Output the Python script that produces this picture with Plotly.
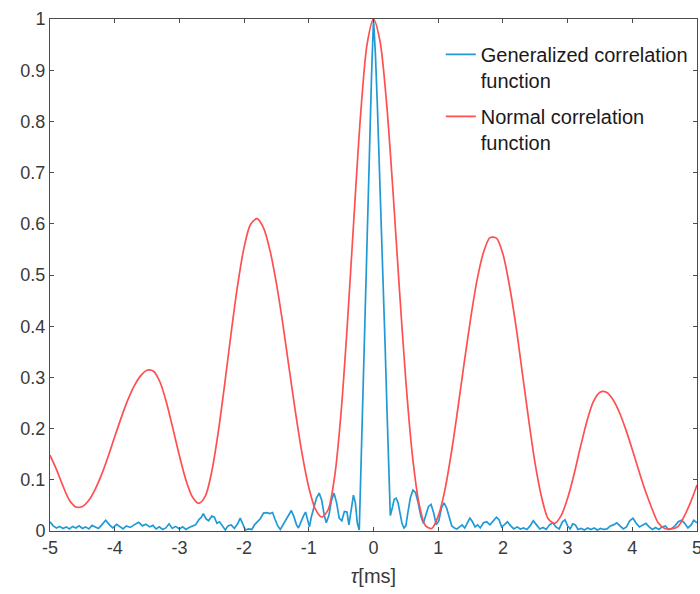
import plotly.graph_objects as go

# ---- Normal correlation function (red), sampled every 0.1 ms ----
red_tau = [round(-5 + 0.1 * i, 1) for i in range(101)]
red_val = [
    0.148, 0.120, 0.088, 0.060, 0.047, 0.048, 0.060, 0.082, 0.111, 0.146,   # -5.0 .. -4.1
    0.184, 0.221, 0.255, 0.283, 0.303, 0.314, 0.312, 0.291, 0.251, 0.200,   # -4.0 .. -3.1
    0.147, 0.100, 0.067, 0.054, 0.068, 0.116, 0.193, 0.287, 0.387, 0.480,   # -3.0 .. -2.1
    0.554, 0.599, 0.610, 0.592, 0.548, 0.483, 0.403, 0.314, 0.227, 0.148,   # -2.0 .. -1.1
    0.085, 0.043, 0.027, 0.042, 0.107, 0.233, 0.412, 0.617, 0.812, 0.950,   # -1.0 .. -0.1
    1.000, 0.957, 0.839, 0.666, 0.473, 0.293, 0.149, 0.056, 0.011, 0.005,   #  0.0 .. 0.9
    0.029, 0.078, 0.150, 0.236, 0.327, 0.414, 0.490, 0.544, 0.573, 0.572,   #  1.0 .. 1.9
    0.541, 0.480, 0.402, 0.309, 0.216, 0.130, 0.065, 0.024, 0.015, 0.030,   #  2.0 .. 2.9
    0.064, 0.111, 0.165, 0.215, 0.253, 0.271, 0.271, 0.257, 0.232, 0.198,   #  3.0 .. 3.9
    0.159, 0.118, 0.079, 0.045, 0.016, 0.005, 0.004, 0.008, 0.028, 0.056,   #  4.0 .. 4.9
    0.090,                                                                  #  5.0
]

# ---- Generalized correlation function (blue) ----
blue_tau = [
    -5.00, -4.95, -4.90, -4.85, -4.80, -4.75, -4.70, -4.65, -4.60, -4.55,
    -4.50, -4.45, -4.40, -4.35, -4.30, -4.25, -4.20, -4.14, -4.08, -4.03,
    -3.97, -3.92, -3.87, -3.82, -3.76, -3.70, -3.63, -3.57, -3.52, -3.46,
    -3.41, -3.36, -3.31, -3.26, -3.21, -3.16, -3.11, -3.06, -3.00, -2.95,
    -2.90, -2.85, -2.80, -2.75, -2.70, -2.66, -2.63, -2.59, -2.55, -2.50,
    -2.46, -2.42, -2.38, -2.33, -2.29, -2.25, -2.20, -2.15, -2.10, -2.06,
    -2.02, -1.98, -1.93, -1.88, -1.84, -1.80, -1.75, -1.70, -1.65, -1.60,
    -1.56, -1.52, -1.48, -1.44, -1.40, -1.36, -1.31, -1.27, -1.23, -1.19,
    -1.16, -1.12, -1.08, -1.05, -1.02, -0.99, -0.96, -0.92, -0.88, -0.84,
    -0.80, -0.76, -0.73, -0.69, -0.65, -0.61, -0.57, -0.53, -0.49, -0.45,
    -0.41, -0.38, -0.35, -0.31, -0.28, -0.25, -0.22,
    -0.21, -0.18, -0.15, -0.12, -0.09, -0.06, -0.03, 0.00,
    0.03, 0.06, 0.09, 0.12, 0.15, 0.18, 0.21, 0.24,
    0.26, 0.29, 0.32, 0.35, 0.38, 0.41, 0.44, 0.47, 0.50, 0.53,
    0.57, 0.61, 0.65, 0.69, 0.73, 0.77, 0.81, 0.85, 0.89, 0.93,
    0.97, 1.01, 1.05, 1.09, 1.13, 1.17, 1.21, 1.25, 1.29, 1.33,
    1.37, 1.41, 1.45, 1.49, 1.53, 1.57, 1.61, 1.65, 1.70, 1.75,
    1.80, 1.85, 1.90, 1.94, 1.98, 2.02, 2.07, 2.12, 2.17, 2.22,
    2.27, 2.32, 2.37, 2.42, 2.47, 2.52, 2.57, 2.62, 2.67, 2.72,
    2.77, 2.82, 2.87, 2.92, 2.96, 3.00, 3.04, 3.08, 3.12, 3.16,
    3.21, 3.26, 3.31, 3.36, 3.41, 3.46, 3.51, 3.56, 3.61, 3.66,
    3.71, 3.76, 3.81, 3.86, 3.91, 3.96, 4.01, 4.06, 4.11, 4.16,
    4.21, 4.26, 4.31, 4.36, 4.41, 4.46, 4.51, 4.56, 4.61, 4.66,
    4.71, 4.76, 4.81, 4.86, 4.91, 4.95, 5.00,
]
blue_val = [
    0.018, 0.010, 0.006, 0.009, 0.005, 0.008, 0.004, 0.009, 0.006, 0.010,
    0.005, 0.008, 0.004, 0.011, 0.008, 0.005, 0.012, 0.021, 0.012, 0.006,
    0.013, 0.008, 0.004, 0.010, 0.007, 0.012, 0.017, 0.010, 0.013, 0.008,
    0.011, 0.004, 0.008, 0.003, 0.006, 0.014, 0.005, 0.009, 0.004, 0.008,
    0.003, 0.007, 0.010, 0.012, 0.022, 0.027, 0.034, 0.024, 0.020, 0.029,
    0.027, 0.015, 0.018, 0.008, 0.002, 0.010, 0.012, 0.005, 0.014, 0.025,
    0.015, 0.002, 0.004, 0.003, 0.012, 0.018, 0.024, 0.035, 0.036, 0.034,
    0.036, 0.022, 0.010, 0.003, 0.012, 0.020, 0.030, 0.040, 0.028, 0.012,
    0.006, 0.020, 0.030, 0.037, 0.020, 0.008, 0.028, 0.045, 0.065, 0.074,
    0.060, 0.030, 0.016, 0.030, 0.060, 0.074, 0.055, 0.025, 0.020, 0.038,
    0.037, 0.012, 0.040, 0.070, 0.055, 0.015, 0.002,
    0.050, 0.190, 0.330, 0.470, 0.600, 0.740, 0.890, 1.000,
    0.930, 0.830, 0.720, 0.600, 0.480, 0.360, 0.230, 0.100,
    0.030, 0.045, 0.062, 0.064, 0.055, 0.035, 0.015, 0.006, 0.010, 0.035,
    0.065, 0.080, 0.075, 0.055, 0.030, 0.015, 0.030, 0.048, 0.052, 0.035,
    0.012, 0.020, 0.045, 0.055, 0.045, 0.025, 0.010, 0.006, 0.004, 0.008,
    0.012, 0.006, 0.015, 0.025, 0.018, 0.008, 0.012, 0.006, 0.016, 0.018,
    0.012, 0.020, 0.027, 0.022, 0.008, 0.012, 0.018, 0.010, 0.004, 0.008,
    0.004, 0.006, 0.003, 0.010, 0.020, 0.012, 0.004, 0.007, 0.003, 0.012,
    0.016, 0.008, 0.004, 0.018, 0.022, 0.010, 0.004, 0.014, 0.012, 0.003,
    0.005, 0.002, 0.006, 0.003, 0.006, 0.002, 0.005, 0.003, 0.004, 0.010,
    0.012, 0.016, 0.010, 0.004, 0.008, 0.020, 0.025, 0.015, 0.008, 0.012,
    0.015, 0.008, 0.003, 0.007, 0.003, 0.008, 0.010, 0.003, 0.005, 0.010,
    0.018, 0.021, 0.015, 0.006, 0.012, 0.021, 0.016,
]

x_ticks = [-5, -4, -3, -2, -1, 0, 1, 2, 3, 4, 5]
y_ticks = [0, 0.1, 0.2, 0.3, 0.4, 0.5, 0.6, 0.7, 0.8, 0.9, 1]
y_ticktext = ["0", "0.1", "0.2", "0.3", "0.4", "0.5", "0.6", "0.7", "0.8", "0.9", "1"]

BLUE = "#1f9ad6"
RED = "#ff4f4f"
AXIS = "#4d4d4d"
TXT = "#3a3a3a"

fig = go.Figure()
fig.add_trace(go.Scatter(
    x=blue_tau, y=blue_val, mode="lines",
    line=dict(color=BLUE, width=1.7),
    name="Generalized correlation<br>function", legendgroup="g",
))
fig.add_trace(go.Scatter(
    x=red_tau, y=red_val, mode="lines",
    line=dict(color=RED, width=1.7, shape="spline", smoothing=0.8),
    name="Normal correlation<br>function", legendgroup="n",
))

fig.update_layout(
    width=700, height=594,
    margin=dict(l=50, r=3, t=19, b=63),
    paper_bgcolor="white", plot_bgcolor="white",
    font=dict(family="Liberation Sans, Arial, sans-serif", size=18, color=TXT),
    showlegend=True,
    legend=dict(
        x=0.604, y=0.969, xanchor="left", yanchor="top",
        bgcolor="rgba(0,0,0,0)", borderwidth=0,
        font=dict(size=20, color="#1a1a1a"),
        valign="top", tracegroupgap=7,
    ),
)
fig.update_xaxes(
    range=[-5, 5], tickvals=x_ticks, ticktext=[str(v) for v in x_ticks],
    automargin=False, ticklabeloverflow="allow",
    showgrid=False, zeroline=False,
    showline=True, linecolor=AXIS, linewidth=1, mirror="ticks",
    ticks="inside", ticklen=4, tickcolor=AXIS,
    tickfont=dict(size=18, color=TXT),
    title=dict(text="<i>τ</i>[ms]", font=dict(size=20, color=TXT), standoff=12),
)
fig.update_yaxes(
    range=[0, 1], tickvals=y_ticks, ticktext=y_ticktext,
    automargin=False, ticklabeloverflow="allow",
    showgrid=False, zeroline=False,
    showline=True, linecolor=AXIS, linewidth=1, mirror="ticks",
    ticks="inside", ticklen=4, tickcolor=AXIS,
    tickfont=dict(size=18, color=TXT),
)

fig.write_html(
    "out.html",
    config={"displayModeBar": False},
    post_script="document.body.style.margin='0';document.body.style.overflow='hidden';",
)
